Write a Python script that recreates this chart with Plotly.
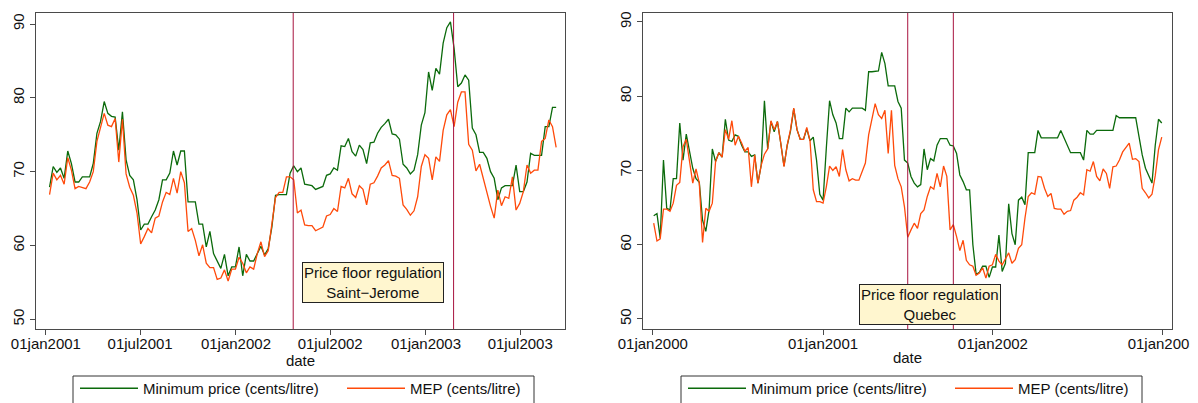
import pandas as pd
import plotly.graph_objects as go

# ---------------- data: Saint-Jerome (weekly) ----------------
sj_start = "2001-01-08"
sj_min_price = [
    67.9, 70.7, 69.9, 70.5, 69.1, 72.8, 71.1, 68.6, 68.6, 69.3,
    69.3, 69.3, 71.1, 75.2, 76.8, 79.5, 77.9, 77.5, 77.4, 72.9,
    78.1, 71.6, 69.5, 68.9, 66.2, 62.1, 62.9, 62.9, 63.9, 64.8,
    66.2, 68.9, 68.9, 69.8, 72.8, 70.9, 72.8, 72.8, 65.9, 65.9,
    65.9, 62.9, 62.9, 59.8, 61.9, 58.9, 58.0, 56.9, 58.8, 55.9,
    57.1, 57.1, 59.8, 55.9, 58.8, 57.9, 57.9, 58.9, 59.9, 58.7,
    59.6, 62.5, 66.8, 66.9, 66.9, 66.9, 69.8, 70.8, 70.0, 70.5,
    68.3, 68.2, 68.1, 67.6, 67.8, 68.0, 69.5, 69.7, 70.5, 70.2,
    73.5, 73.4, 74.5, 72.7, 72.1, 73.6, 73.0, 71.1, 73.9, 74.0,
    75.2, 76.0, 76.5, 77.1, 75.1, 75.0, 74.4, 71.0, 70.5, 69.7,
    70.2, 72.3, 76.3, 78.0, 83.5, 81.0, 84.0, 83.2, 87.4, 89.5,
    90.3, 86.7, 81.5, 82.0, 83.1, 82.4, 75.9, 75.0, 72.6, 72.6,
    71.8, 70.0, 69.1, 66.2, 67.8, 68.1, 68.1, 68.1, 70.9, 67.3,
    67.3, 68.6, 72.5, 72.2, 72.2, 72.2, 76.1, 76.1, 78.7, 78.7,
]
sj_mep = [
    66.9, 69.8, 68.9, 69.5, 68.3, 71.9, 70.2, 67.7, 68.0, 67.9,
    67.7, 68.6, 70.0, 74.1, 75.9, 77.9, 76.3, 76.1, 77.2, 71.3,
    77.1, 69.7, 67.9, 66.8, 64.4, 60.2, 61.2, 62.3, 61.7, 63.7,
    64.0, 65.9, 67.2, 66.9, 69.1, 67.1, 70.0, 68.5, 61.9, 62.3,
    60.7, 58.6, 60.1, 57.6, 57.0, 57.0, 55.4, 55.6, 56.7, 55.2,
    56.8, 56.8, 58.4, 57.6, 56.3, 57.1, 56.8, 58.9, 60.5, 58.5,
    59.3, 63.0, 66.5, 67.2, 67.2, 69.3, 69.3, 68.9, 64.4, 64.8,
    62.8, 62.7, 62.7, 62.0, 62.3, 62.5, 64.0, 64.2, 65.0, 64.6,
    68.0, 67.8, 69.1, 67.0, 66.5, 68.1, 67.6, 65.5, 68.3, 68.5,
    69.4, 70.5, 70.9, 71.5, 69.5, 69.4, 69.1, 65.5, 64.9, 64.1,
    64.7, 66.6, 70.7, 72.3, 71.8, 68.9, 72.0, 71.4, 75.6, 77.7,
    78.4, 76.1, 79.4, 80.8, 80.8, 73.7, 72.9, 70.1, 71.0, 69.1,
    67.1, 65.3, 63.7, 67.5, 65.4, 66.6, 66.4, 69.3, 64.8, 65.7,
    67.3, 70.9, 69.8, 70.2, 70.2, 74.1, 74.5, 77.0, 76.1, 73.3,
]
sj_regulation = ["2002-04-21", "2003-02-23"]
sj_ticks = ["2001-01-01", "2001-07-01", "2002-01-01", "2002-07-01", "2003-01-01", "2003-07-01"]
sj_ticktext = ["01jan2001", "01jul2001", "01jan2002", "01jul2002", "01jan2003", "01jul2003"]

# ---------------- data: Quebec (weekly) ----------------
qc_start = "2000-01-03"
qc_min_price = [
    63.9, 64.2, 60.9, 71.4, 64.9, 64.7, 68.9, 68.9, 76.4, 71.4,
    74.9, 72.3, 70.3, 68.9, 68.4, 63.3, 61.8, 64.7, 72.9, 71.2,
    72.4, 71.8, 76.9, 74.1, 73.9, 74.8, 74.6, 73.4, 72.5, 72.5,
    71.9, 72.1, 68.3, 70.7, 79.4, 72.9, 76.6, 75.2, 76.6, 73.7,
    70.6, 73.4, 75.3, 78.3, 75.5, 74.2, 74.2, 75.6, 74.0, 74.5,
    71.4, 66.8, 66.0, 73.0, 79.4, 77.5, 76.4, 74.3, 74.3, 78.4,
    77.9, 78.4, 78.4, 78.4, 78.4, 78.1, 83.3, 83.3, 83.3, 83.4,
    85.9, 84.4, 81.4, 81.4, 81.4, 79.3, 78.4, 71.4, 71.0, 69.2,
    68.3, 67.8, 68.1, 72.9, 70.1, 71.6, 71.3, 73.4, 74.3, 74.3,
    74.3, 73.4, 73.3, 72.3, 69.4, 68.5, 67.4, 67.4, 60.0, 56.0,
    56.3, 57.1, 57.1, 55.6, 57.0, 57.0, 61.3, 56.4, 57.5, 65.5,
    61.5, 60.0, 66.0, 66.4, 65.4, 72.4, 72.4, 72.4, 75.4, 74.4,
    74.4, 74.4, 74.4, 74.4, 74.4, 75.4, 74.4, 73.4, 72.4, 72.4,
    72.4, 72.4, 71.4, 75.4, 74.9, 74.9, 75.4, 75.4, 75.4, 75.4,
    75.4, 75.4, 77.4, 77.1, 77.1, 77.1, 77.1, 77.1, 77.1, 74.6,
    72.1, 70.3, 69.3, 68.3, 73.4, 76.9, 76.4,
]
qc_mep = [
    62.9, 60.5, 60.8, 64.8, 64.8, 64.5, 65.6, 68.0, 68.4, 73.2,
    74.2, 71.4, 68.3, 70.2, 68.3, 60.3, 64.9, 64.5, 65.6, 71.2,
    72.4, 71.8, 75.5, 74.2, 76.7, 73.4, 74.6, 73.7, 72.6, 73.1,
    67.8, 72.1, 68.3, 70.7, 72.2, 72.9, 76.7, 75.5, 76.6, 73.7,
    70.5, 73.4, 75.5, 78.4, 75.5, 74.2, 74.2, 75.8, 74.0, 67.4,
    65.8, 65.8, 65.6, 67.8, 70.6, 70.0, 70.5, 69.2, 72.8, 70.1,
    68.6, 68.9, 68.7, 68.7, 69.8, 71.0, 74.8, 77.0, 79.0, 77.5,
    77.0, 78.1, 72.3, 78.1, 70.7, 68.9, 67.8, 65.1, 61.0, 62.0,
    62.9, 62.2, 64.2, 64.7, 66.5, 67.8, 67.5, 69.6, 67.8, 70.6,
    69.2, 62.0, 62.7, 61.1, 59.2, 60.6, 57.9, 57.3, 57.1, 55.9,
    56.2, 56.9, 55.5, 57.1, 57.3, 58.7, 57.8, 57.3, 58.2, 58.9,
    57.5, 58.0, 59.5, 60.0, 63.6, 66.5, 67.0, 66.8, 69.2, 69.1,
    67.6, 66.5, 66.9, 64.9, 64.8, 64.8, 64.1, 64.5, 64.6, 66.0,
    66.4, 67.0, 66.7, 70.1, 69.9, 71.2, 69.2, 68.6, 70.2, 69.6,
    67.6, 70.5, 70.6, 71.4, 72.5, 73.1, 73.7, 71.5, 71.6, 71.2,
    67.6, 67.0, 66.3, 66.8, 69.3, 72.8, 74.5,
]
qc_regulation = ["2001-07-02", "2001-10-08"]
qc_ticks = ["2000-01-01", "2001-01-01", "2002-01-01", "2003-01-01"]
qc_ticktext = ["01jan2000", "01jan2001", "01jan2002", "01jan2003"]

y_ticks = [50, 60, 70, 80, 90]
series_names = ["Minimum price (cents/litre)", "MEP (cents/litre)"]

# ---------------- styling ----------------
OFF = 8                      # page body margin offset
FW, FH = 1190, 395           # figure size so that it fills the 1198x403 window
GREEN = "#0B6A0B"
ORANGE = "#FF4A0A"
VLINE = "#A8143F"
FRAME = "#4a4a4a"
FONT = "Liberation Sans, Arial, Helvetica, sans-serif"
FS = 15


def px(xs):
    return (xs - OFF) / FW


def py(ys):
    return 1 - (ys - OFF) / FH


sj_dates = pd.date_range(sj_start, periods=len(sj_min_price), freq="7D")
qc_dates = pd.date_range(qc_start, periods=len(qc_min_price), freq="7D")

fig = go.Figure()
fig.add_trace(go.Scatter(x=sj_dates, y=sj_min_price, mode="lines", name=series_names[0],
                         line=dict(color=GREEN, width=1.3), xaxis="x", yaxis="y", legend="legend"))
fig.add_trace(go.Scatter(x=sj_dates, y=sj_mep, mode="lines", name=series_names[1],
                         line=dict(color=ORANGE, width=1.3), xaxis="x", yaxis="y", legend="legend"))
fig.add_trace(go.Scatter(x=qc_dates, y=qc_min_price, mode="lines", name=series_names[0],
                         line=dict(color=GREEN, width=1.3), xaxis="x2", yaxis="y2", legend="legend2"))
fig.add_trace(go.Scatter(x=qc_dates, y=qc_mep, mode="lines", name=series_names[1],
                         line=dict(color=ORANGE, width=1.3), xaxis="x2", yaxis="y2", legend="legend2"))

shapes = []
for d in sj_regulation:
    shapes.append(dict(type="line", xref="x", yref="y domain", x0=d, x1=d, y0=0, y1=1,
                       line=dict(color=VLINE, width=1)))
for d in qc_regulation:
    shapes.append(dict(type="line", xref="x2", yref="y2 domain", x0=d, x1=d, y0=0, y1=1,
                       line=dict(color=VLINE, width=1)))
# legend frames (bottom edge falls below the visible page, as in the reference)
for left, right in [(73, 534), (681, 1142)]:
    shapes.append(dict(type="rect", xref="paper", yref="paper", x0=px(left), x1=px(right),
                       y0=py(376), y1=py(420), line=dict(color="#333", width=1),
                       fillcolor="rgba(0,0,0,0)", layer="below"))

annotations = [
    dict(x="2002-09-22", y=55, xref="x", yref="y", text="Price floor regulation<br>Saint\u2212Jerome",
         showarrow=False, bgcolor="#FFF6CF", bordercolor="#222", borderwidth=1, borderpad=1,
         font=dict(family=FONT, size=FS, color="#111"), align="center"),
    dict(x="2001-08-19", y=52, xref="x2", yref="y2", text="Price floor regulation<br>Quebec",
         showarrow=False, bgcolor="#FFF6CF", bordercolor="#222", borderwidth=1, borderpad=1,
         font=dict(family=FONT, size=FS, color="#111"), align="center"),
]


def xaxis(domain, rng, tickvals, ticktext, anchor):
    return dict(domain=domain, range=rng, type="date", anchor=anchor, tickmode="array",
                tickvals=tickvals, ticktext=ticktext, ticks="outside", ticklen=5,
                tickcolor=FRAME, showgrid=False, zeroline=False, showline=True,
                linecolor=FRAME, linewidth=1, mirror=True, ticklabelstandoff=-4,
                tickfont=dict(family=FONT, size=FS, color="#111"),
                title=dict(text="date", font=dict(family=FONT, size=FS, color="#111"), standoff=1))


def yaxis(anchor, rng):
    return dict(domain=[py(329), py(13)], range=rng, anchor=anchor, tickvals=y_ticks,
                ticks="outside", ticklen=5, tickcolor=FRAME, tickangle=-90, showgrid=False,
                zeroline=False, showline=True, linecolor=FRAME, linewidth=1, mirror=True,
                tickfont=dict(family=FONT, size=FS, color="#111"))


legend_common = dict(orientation="h", yanchor="top", y=py(372), xanchor="left",
                     borderwidth=0, bgcolor="rgba(0,0,0,0)",
                     font=dict(family=FONT, size=FS, color="#111"), itemwidth=58,
                     entrywidth=194, entrywidthmode="pixels", tracegroupgap=0)

fig.update_layout(
    width=FW, height=FH,
    margin=dict(l=0, r=0, t=0, b=0, autoexpand=False),
    paper_bgcolor="white", plot_bgcolor="white",
    font=dict(family=FONT, size=FS, color="#111"),
    xaxis=xaxis([px(36), px(565)], ["2000-12-13", "2003-09-25"], sj_ticks, sj_ticktext, "y"),
    yaxis=yaxis("x", [48.69, 91.49]),
    xaxis2=xaxis([px(643), px(1172)], ["1999-12-11", "2003-01-21"], qc_ticks, qc_ticktext, "y2"),
    yaxis2=yaxis("x2", [48.65, 91.21]),
    shapes=shapes,
    annotations=annotations,
    legend=legend_common | dict(x=px(75)),
    legend2=legend_common | dict(x=px(683)),
    showlegend=True,
)

fig.write_html("out.html")
